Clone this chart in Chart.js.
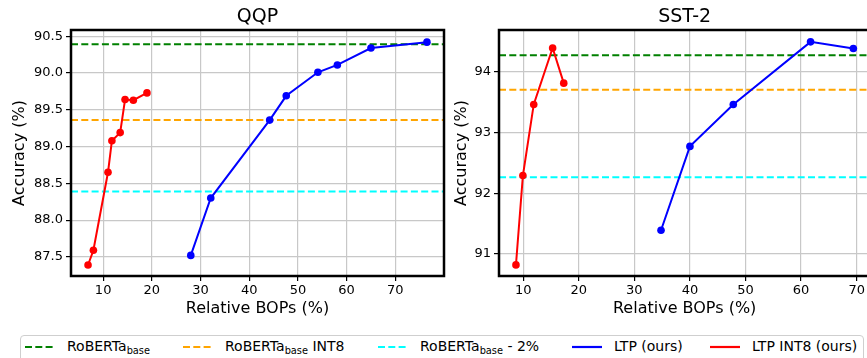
<!DOCTYPE html>
<html><head><meta charset="utf-8">
<script src="https://cdn.jsdelivr.net/npm/chart.js@4/dist/chart.umd.min.js"></script>
<style>
html,body{margin:0;padding:0;width:867px;height:358px;overflow:hidden;background:#fff;font-family:"DejaVu Sans",sans-serif;}
#c1{position:absolute;left:0;top:0;}
#c2{position:absolute;left:440px;top:0;}
#legend{position:absolute;left:20px;top:335px;height:40px;border:1px solid #cfcfcf;border-radius:4px;background:#fff;display:flex;align-items:flex-start;padding:2px 6px 0 4px;white-space:nowrap;font-size:14px;line-height:16.8px;color:#000;}
.item{display:flex;align-items:flex-start;flex:none;}
.item svg{margin-top:2px;margin-right:12px;flex:none;}
.sub{font-size:9.8px;vertical-align:-2.5px;}
</style>
</head><body>
<canvas id="c1" width="450" height="320"></canvas>
<canvas id="c2" width="440" height="320"></canvas>
<div id="legend"></div>
<script>
// ---------- data ----------
const seriesNames = ['RoBERTa_{base}', 'RoBERTa_{base} INT8', 'RoBERTa_{base} - 2%', 'LTP (ours)', 'LTP INT8 (ours)'];
const seriesColors = ['#008000', '#ffa500', '#00ffff', '#0000ff', '#ff0000'];

// QQP
const qqpLtpX  = [28.0, 32.1, 44.2, 47.6, 54.1, 58.1, 65.0, 76.5];
const qqpLtpY  = [87.52, 88.30, 89.36, 89.69, 90.01, 90.11, 90.34, 90.42];
const qqpInt8X = [6.9, 8.0, 11.0, 11.8, 13.5, 14.5, 16.2, 19.0];
const qqpInt8Y = [87.39, 87.59, 88.65, 89.08, 89.19, 89.64, 89.63, 89.73];
const qqpRefs  = [90.39, 89.36, 88.39];
const qqpXRange = [3.4, 80.0];
const qqpYRange = [87.24, 90.585];
const qqpYTicks = [87.5, 88.0, 88.5, 89.0, 89.5, 90.0, 90.5];

// SST-2
const sstLtpX  = [34.8, 40.0, 47.8, 61.7, 69.4];
const sstLtpY  = [91.39, 92.77, 93.46, 94.49, 94.38];
const sstInt8X = [8.7, 9.95, 11.9, 15.3, 17.3];
const sstInt8Y = [90.82, 92.29, 93.46, 94.39, 93.81];
const sstRefs  = [94.27, 93.70, 92.26];
const sstXRange = [5.65, 72.45];
const sstYRange = [90.637, 94.685];
const sstYTicks = [91, 92, 93, 94];

const xTicks = [10, 20, 30, 40, 50, 60, 70];

// legend layout (column widths in px)
const legendColWidths = [158, 195, 194, 138, null];

// ---------- helpers ----------
const FONT = '"DejaVu Sans", sans-serif';
const pts = (xs, ys) => xs.map((x, i) => ({x, y: ys[i]}));
const plain = s => s.replace(/_\{([^}]*)\}/g, '$1');

const framePlugin = {
  id: 'frame',
  afterDatasetsDraw(chart) {
    const {ctx, chartArea: {left, top, right, bottom}} = chart;
    ctx.save();
    ctx.strokeStyle = '#000';
    ctx.lineWidth = 2.5;
    ctx.strokeRect(left, top, right - left, bottom - top);
    ctx.restore();
  }
};

function makeChart(id, title, ltpX, ltpY, int8X, int8Y, refs, xr, yr, yTicks, yDec, yAxisW, padRight, yTitlePad) {
  const datasets = [
    {label: plain(seriesNames[3]), data: pts(ltpX, ltpY), borderColor: seriesColors[3], backgroundColor: seriesColors[3],
     borderWidth: 2, pointRadius: 3.8, pointBorderWidth: 0, pointBackgroundColor: seriesColors[3]},
    {label: plain(seriesNames[4]), data: pts(int8X, int8Y), borderColor: seriesColors[4], backgroundColor: seriesColors[4],
     borderWidth: 2, pointRadius: 3.8, pointBorderWidth: 0, pointBackgroundColor: seriesColors[4]},
  ];
  refs.forEach((v, i) => {
    datasets.push({label: plain(seriesNames[i]), data: [{x: xr[0], y: v}, {x: xr[1], y: v}],
      borderColor: seriesColors[i], borderWidth: 2, borderDash: [7, 3.3], pointRadius: 0});
  });
  return new Chart(document.getElementById(id), {
    type: 'line',
    data: {datasets},
    options: {
      responsive: false, animation: false, events: [],
      layout: {padding: {left: 0, right: padRight, top: 0, bottom: 0}},
      elements: {line: {tension: 0}},
      plugins: {
        legend: {display: false}, tooltip: {enabled: false},
        title: {display: true, text: title, fullSize: false, color: '#000',
                font: {family: FONT, size: 19, weight: 'normal'}, padding: {top: 6, bottom: 1.2}}
      },
      scales: {
        x: {
          type: 'linear', min: xr[0], max: xr[1],
          afterBuildTicks: s => { s.ticks = xTicks.map(v => ({value: v})); },
          afterFit: s => { s.height = 44; },
          ticks: {autoSkip: false, maxRotation: 0, padding: 2, color: '#000', font: {family: FONT, size: 13},
                  callback: v => String(v)},
          grid: {color: '#c8c8c8', lineWidth: 1.2, tickColor: '#000', tickLength: 5, tickWidth: 1.2},
          border: {display: false},
          title: {display: true, text: 'Relative BOPs (%)', color: '#000', font: {family: FONT, size: 16},
                  padding: {top: 0, bottom: 1.5}}
        },
        y: {
          type: 'linear', min: yr[0], max: yr[1],
          afterBuildTicks: s => { s.ticks = yTicks.map(v => ({value: v})); },
          afterFit: s => { s.width = yAxisW; },
          ticks: {autoSkip: false, padding: 3, color: '#000', font: {family: FONT, size: 13},
                  callback: v => Number(v).toFixed(yDec)},
          grid: {color: '#c8c8c8', lineWidth: 1.2, tickColor: '#000', tickLength: 5, tickWidth: 1.2},
          border: {display: false},
          title: {display: true, text: 'Accuracy (%)', color: '#000', font: {family: FONT, size: 16},
                  padding: {top: yTitlePad, bottom: 0}}
        }
      }
    },
    plugins: [framePlugin]
  });
}

makeChart('c1', 'QQP', qqpLtpX, qqpLtpY, qqpInt8X, qqpInt8Y, qqpRefs, qqpXRange, qqpYRange, qqpYTicks, 1, 71, 6, 10.5);
makeChart('c2', 'SST-2', sstLtpX, sstLtpY, sstInt8X, sstInt8Y, sstRefs, sstXRange, sstYRange, sstYTicks, 0, 59, 9.7, 12);

// ---------- legend (HTML, real text) ----------
const legend = document.getElementById('legend');
seriesNames.forEach((name, i) => {
  const item = document.createElement('div');
  item.className = 'item';
  if (legendColWidths[i]) item.style.width = legendColWidths[i] + 'px';
  const dash = i < 3 ? 'stroke-dasharray="7 3.3"' : '';
  item.innerHTML = '<svg width="30" height="14"><line x1="0" y1="7" x2="30" y2="7" stroke="' + seriesColors[i] +
    '" stroke-width="2.2" ' + dash + '/></svg>';
  const span = document.createElement('span');
  span.innerHTML = name.replace(/_\{([^}]*)\}/g, '<span class="sub">$1</span>');
  item.appendChild(span);
  legend.appendChild(item);
});
</script>
</body></html>
